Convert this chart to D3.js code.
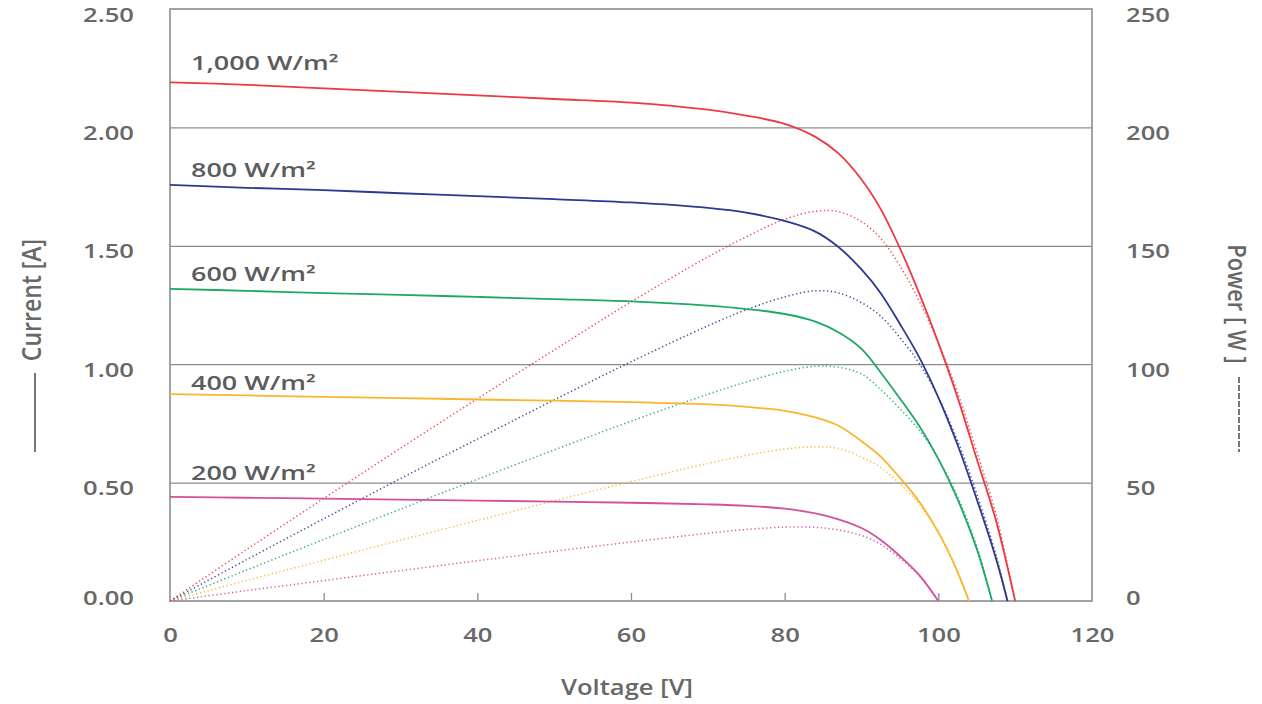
<!DOCTYPE html>
<html>
<head>
<meta charset="utf-8">
<script src="https://cdn.jsdelivr.net/npm/d3@7"></script>
<style>
  html, body { margin: 0; padding: 0; background: #ffffff; }
  svg { display: block; }
  text { font-family: "Open Sans", "Noto Sans", sans-serif; font-weight: 600; }
</style>
</head>
<body>
<svg id="chart" width="1262" height="704"></svg>
<script>
// I-V and P-V characteristics of a PV module at five irradiance levels.

const irradianceLabels = ["1,000 W/m²", "800 W/m²", "600 W/m²", "400 W/m²", "200 W/m²"];
const seriesColors = ["#ec3a45", "#2b3990", "#1ea866", "#fbb52b", "#d4509c"];

// 1,000 W/m²
const voltage1000 = [0, 10, 20, 30, 40, 50, 60, 70, 75, 80, 84, 87, 90, 92.5, 95, 97.5, 100, 102.5, 105, 107.5, 110];
const current1000 = [2.19, 2.18, 2.165, 2.15, 2.135, 2.12, 2.105, 2.075, 2.05, 2.015, 1.96, 1.89, 1.78, 1.655, 1.49, 1.30, 1.09, 0.86, 0.60, 0.34, 0];
const power1000   = [0, 21.8, 43.3, 64.5, 85.4, 106, 126.3, 145.3, 153.8, 161.2, 164.6, 164.4, 160.2, 153.1, 141.5, 126.8, 109, 88.2, 63, 36.6, 0];

// 800 W/m²
const voltage800 = [0, 10, 20, 30, 40, 50, 60, 70, 75, 80, 84, 87, 90, 92.5, 95, 97.5, 100, 102.5, 105, 107.5, 109];
const current800 = [1.757, 1.745, 1.735, 1.722, 1.71, 1.697, 1.683, 1.66, 1.64, 1.605, 1.56, 1.495, 1.40, 1.30, 1.17, 1.03, 0.86, 0.66, 0.43, 0.18, 0];
const power800   = [0, 17.5, 34.7, 51.7, 68.4, 84.9, 101, 116.2, 123, 128.4, 131, 130.1, 126, 120.3, 111.2, 100.4, 86, 67.7, 45.2, 19.4, 0];

// 600 W/m²
const voltage600 = [0, 10, 20, 30, 40, 50, 60, 70, 75, 80, 84, 87, 90, 92.5, 95, 97.5, 100, 102.5, 105, 107];
const current600 = [1.318, 1.31, 1.30, 1.293, 1.284, 1.275, 1.265, 1.247, 1.233, 1.212, 1.18, 1.135, 1.065, 0.965, 0.855, 0.74, 0.60, 0.43, 0.22, 0];
const power600   = [0, 13.1, 26, 38.8, 51.4, 63.8, 75.9, 87.3, 92.5, 97, 99.1, 98.7, 95.9, 89.3, 81.2, 72.2, 60, 44.1, 23.1, 0];

// 400 W/m²
const voltage400 = [0, 10, 20, 30, 40, 50, 60, 70, 75, 80, 84, 87, 90, 92.5, 95, 97.5, 100, 102, 104];
const current400 = [0.874, 0.868, 0.862, 0.857, 0.851, 0.846, 0.84, 0.83, 0.82, 0.803, 0.775, 0.74, 0.675, 0.61, 0.52, 0.42, 0.29, 0.16, 0];
const power400   = [0, 8.7, 17.2, 25.7, 34, 42.3, 50.4, 58.1, 61.5, 64.2, 65.1, 64.4, 60.8, 56.4, 49.4, 41, 29, 16.3, 0];

// 200 W/m²
const voltage200 = [0, 10, 20, 30, 40, 50, 60, 70, 75, 80, 84, 87, 90, 92.5, 95, 97.5, 100];
const current200 = [0.44, 0.436, 0.432, 0.428, 0.424, 0.42, 0.415, 0.408, 0.402, 0.39, 0.37, 0.345, 0.308, 0.258, 0.19, 0.11, 0];
const power200   = [0, 4.4, 8.6, 12.8, 17, 21, 24.9, 28.6, 30.2, 31.2, 31.1, 30, 27.7, 23.9, 18.1, 10.7, 0];

// Axis ticks
const voltageTicks = [0, 20, 40, 60, 80, 100, 120];
const currentTicks = [0, 0.5, 1.0, 1.5, 2.0, 2.5];
const powerTicks = [0, 50, 100, 150, 200, 250];

const xTitle = "Voltage [V]";
const yLeftTitle = "Current [A]";
const yRightTitle = "Power [ W ]";

const voltages = [voltage1000, voltage800, voltage600, voltage400, voltage200];
const currents = [current1000, current800, current600, current400, current200];
const powers = [power1000, power800, power600, power400, power200];

const series = irradianceLabels.map((label, i) => ({
  label,
  color: seriesColors[i],
  iv: voltages[i].map((v, k) => ({ v, y: currents[i][k] })),
  pv: voltages[i].map((v, k) => ({ v, y: powers[i][k] }))
}));

// ---- layout ----
const W = 1262, H = 704;
const plot = { left: 170, right: 1092, top: 9, bottom: 601 };
const SX = 1.28;            // horizontal stretch of the lettering
const textFill = "#686868";
const tickFont = 20;

const svg = d3.select("#chart");
svg.append("rect").attr("width", W).attr("height", H).attr("fill", "#ffffff");

const x = d3.scaleLinear().domain([0, 120]).range([plot.left, plot.right]);
const yI = d3.scaleLinear().domain([0, 2.5]).range([plot.bottom, plot.top]);
const yP = d3.scaleLinear().domain([0, 250]).range([plot.bottom, plot.top]);
const plotW = plot.right - plot.left;

// vertical offset of a value label below its gridline (the baseline label sits higher)
const labelDrop = d => (d === 0 ? 3 : 12);

// horizontal gridlines via the left axis
const grid = svg.append("g")
  .attr("transform", `translate(${plot.left},0)`)
  .call(d3.axisLeft(yI).tickValues(currentTicks.filter(d => d > 0 && d < 2.5)).tickSize(-plotW).tickFormat(""));
grid.select(".domain").remove();
grid.selectAll("line").attr("stroke", "#8c8c8c").attr("stroke-width", 1.3);

// left current axis labels
const yAxisL = svg.append("g")
  .attr("transform", `translate(${plot.left},0)`)
  .call(d3.axisLeft(yI).tickValues(currentTicks).tickSize(0).tickFormat(d3.format(".2f")));
yAxisL.select(".domain").remove();
yAxisL.selectAll("text")
  .attr("x", 0).attr("dy", null)
  .attr("text-anchor", "end")
  .attr("transform", d => `translate(-36,${labelDrop(d)}) scale(${SX},1)`)
  .attr("font-size", tickFont).attr("fill", textFill);

// right power axis labels
const yAxisR = svg.append("g")
  .attr("transform", `translate(${plot.right},0)`)
  .call(d3.axisRight(yP).tickValues(powerTicks).tickSize(0).tickFormat(d3.format("d")));
yAxisR.select(".domain").remove();
yAxisR.selectAll("text")
  .attr("x", 0).attr("dy", null)
  .attr("text-anchor", "start")
  .attr("transform", d => `translate(34,${labelDrop(d)}) scale(${SX},1)`)
  .attr("font-size", tickFont).attr("fill", textFill);

// bottom voltage axis: short inward ticks and labels
const xAxis = svg.append("g")
  .attr("transform", `translate(0,${plot.bottom})`)
  .call(d3.axisBottom(x).tickValues(voltageTicks).tickSize(-8));
xAxis.select(".domain").remove();
xAxis.selectAll("line")
  .attr("stroke", "#8c8c8c").attr("stroke-width", 1.3)
  .attr("display", d => (d === 0 || d === 120) ? "none" : null);
xAxis.selectAll("text")
  .attr("y", 0).attr("dy", null)
  .attr("text-anchor", "middle")
  .attr("transform", `translate(0,41) scale(${SX},1)`)
  .attr("font-size", tickFont).attr("fill", textFill);
svg.selectAll("g").attr("font-family", null).attr("font-size", null);

// plot frame
svg.append("rect")
  .attr("x", plot.left).attr("y", plot.top)
  .attr("width", plotW).attr("height", plot.bottom - plot.top)
  .attr("fill", "none").attr("stroke", "#9a9a9a").attr("stroke-width", 1.8);

// curves
const ivLine = d3.line().x(d => x(d.v)).y(d => yI(d.y)).curve(d3.curveCatmullRom.alpha(0.5));
const pvLine = d3.line().x(d => x(d.v)).y(d => yP(d.y)).curve(d3.curveCatmullRom.alpha(0.5));

const curves = svg.append("g");
curves.selectAll("path.pv")
  .data(series)
  .join("path")
  .attr("class", "pv")
  .attr("d", d => pvLine(d.pv))
  .attr("fill", "none")
  .attr("stroke", d => d.color)
  .attr("stroke-width", 1.5)
  .attr("stroke-dasharray", "1.3,2.6")
  .attr("opacity", 0.9);

curves.selectAll("path.iv")
  .data(series)
  .join("path")
  .attr("class", "iv")
  .attr("d", d => ivLine(d.iv))
  .attr("fill", "none")
  .attr("stroke", d => d.color)
  .attr("stroke-width", 1.8);

// irradiance labels above each I-V curve
const labelLift = [12, 8, 8, 4, 17];
svg.append("g").selectAll("text")
  .data(series)
  .join("text")
  .attr("text-anchor", "start")
  .attr("transform", (d, i) => `translate(191,${yI(d.iv[0].y) - labelLift[i]}) scale(${SX + 0.14},1)`)
  .attr("font-size", 19)
  .attr("fill", "#5c5c5c")
  .text(d => d.label);

// axis titles
svg.append("text")
  .attr("text-anchor", "middle")
  .attr("transform", `translate(627,695) scale(${SX - 0.06},1)`)
  .attr("font-size", 21)
  .attr("fill", textFill)
  .text(xTitle);

svg.append("text")
  .attr("text-anchor", "middle")
  .attr("transform", `translate(41,300) scale(${SX - 0.1},1) rotate(-90)`)
  .attr("font-size", 23)
  .attr("fill", textFill)
  .text(yLeftTitle);
svg.append("line")
  .attr("x1", 35).attr("x2", 35).attr("y1", 373).attr("y2", 452)
  .attr("stroke", "#555").attr("stroke-width", 1.6);

svg.append("text")
  .attr("text-anchor", "middle")
  .attr("transform", `translate(1228,304) scale(${SX - 0.1},1) rotate(90)`)
  .attr("font-size", 22)
  .attr("fill", textFill)
  .text(yRightTitle);
svg.append("line")
  .attr("x1", 1239).attr("x2", 1239).attr("y1", 377).attr("y2", 452)
  .attr("stroke", "#555").attr("stroke-width", 1.6)
  .attr("stroke-dasharray", "6,2");
</script>
</body>
</html>
